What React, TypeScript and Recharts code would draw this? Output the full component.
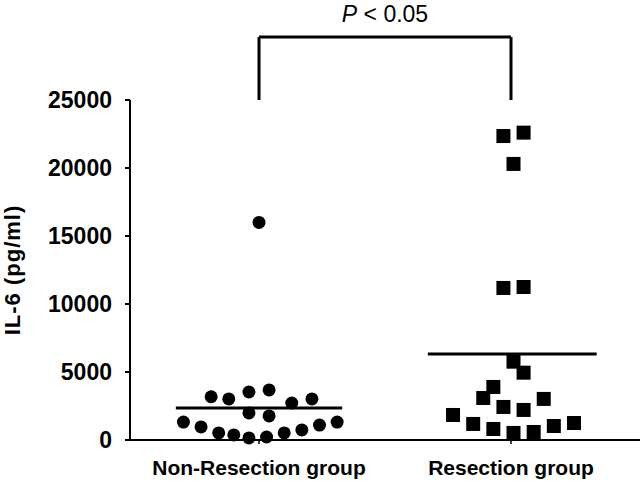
import React from "react";
import { ScatterChart, Scatter, XAxis, YAxis, ReferenceLine } from "recharts";

const categories = ["Non-Resection group", "Resection group"];
const yTicks = [0, 5000, 10000, 15000, 20000, 25000];

const nonResectionValues = [16000, 3180, 3020, 3530, 3680, 2720, 3020, 1990, 1770, 1320, 960, 520, 370, 150, 220, 520, 740, 1100, 1320];
const nonResectionJitter = [0.0, -0.19, -0.12, -0.04, 0.04, 0.13, 0.21, -0.04, 0.04, -0.3, -0.23, -0.16, -0.1, -0.04, 0.03, 0.1, 0.17, 0.24, 0.31];

const resectionValues = [22350, 22600, 20300, 11180, 11250, 5760, 4950, 3900, 3090, 2430, 2210, 3020, 1840, 1180, 810, 520, 590, 1030, 1250];
const resectionJitter = [-0.03, 0.05, 0.01, -0.03, 0.05, 0.01, 0.05, -0.07, -0.11, -0.03, 0.05, 0.13, -0.23, -0.15, -0.07, 0.01, 0.09, 0.17, 0.25];

const groupMeans = [2360, 6330];
const bracketTop = 29630;
const pText = { italic: "P", rest: " < 0.05" };

const nonResData = nonResectionValues.map((v, i) => ({ x: 1 + nonResectionJitter[i], y: v }));
const resData = resectionValues.map((v, i) => ({ x: 2 + resectionJitter[i], y: v }));

const FONT = "'Liberation Sans', Arial, sans-serif";

const CircleShape = (props: any) => <circle cx={props.cx} cy={props.cy} r={6.5} fill="#000" />;
const SquareShape = (props: any) => <rect x={props.cx - 7} y={props.cy - 7} width={14} height={14} fill="#000" />;

const YLabel = (props: any) => {
  const vb = props.viewBox || { x: 0, y: 0, width: 0, height: 0 };
  const x = 12;
  const y = vb.y + vb.height / 2;
  return (
    <text x={x} y={y} transform={`rotate(-90 ${x} ${y})`} textAnchor="middle" dominantBaseline="central"
      style={{ fontFamily: FONT, fontWeight: "bold", fontSize: 22, letterSpacing: 1, fill: "#000" }}>
      IL-6 (pg/ml)
    </text>
  );
};

const PLabel = (props: any) => {
  const vb = props.viewBox || { x: 0, y: 0, width: 0 };
  const cx = vb.x + vb.width / 2;
  return (
    <text x={cx} y={vb.y - 15} textAnchor="middle" style={{ fontFamily: FONT, fontSize: 23, fill: "#000" }}>
      <tspan fontStyle="italic">{pText.italic}</tspan>
      <tspan>{pText.rest}</tspan>
    </text>
  );
};

export default function App() {
  return (
    <div style={{ position: "absolute", left: 0, top: 0, background: "#fff" }}>
      <ScatterChart width={643} height={482} margin={{ top: 100, right: 3, bottom: 0, left: 0 }}>
        <XAxis
          type="number"
          dataKey="x"
          domain={[0.488, 2.512]}
          ticks={[1, 2]}
          tickFormatter={(v: number) => categories[Math.round(v) - 1]}
          height={42}
          axisLine={{ stroke: "#000", strokeWidth: 2 }}
          tickLine={{ stroke: "#000", strokeWidth: 1.5 }}
          tickSize={4}
          tickMargin={16}
          tick={{ fill: "#000", fontFamily: FONT, fontWeight: "bold", fontSize: 21 }}
          allowDataOverflow
        />
        <YAxis
          type="number"
          dataKey="y"
          domain={[0, 25000]}
          ticks={yTicks}
          width={130}
          axisLine={{ stroke: "#000", strokeWidth: 2 }}
          tickLine={{ stroke: "#000", strokeWidth: 2 }}
          tickSize={5}
          tickMargin={13}
          tick={{ fill: "#000", fontFamily: FONT, fontWeight: "bold", fontSize: 23 }}
          label={<YLabel />}
        />
        <ReferenceLine segment={[{ x: 1 - 0.33, y: groupMeans[0] }, { x: 1 + 0.33, y: groupMeans[0] }]} stroke="#000" strokeWidth={3} ifOverflow="visible" />
        <ReferenceLine segment={[{ x: 2 - 0.33, y: groupMeans[1] }, { x: 2 + 0.34, y: groupMeans[1] }]} stroke="#000" strokeWidth={3} ifOverflow="visible" />
        <ReferenceLine segment={[{ x: 1, y: 25000 }, { x: 1, y: bracketTop }]} stroke="#000" strokeWidth={3} ifOverflow="visible" />
        <ReferenceLine segment={[{ x: 2, y: 25000 }, { x: 2, y: bracketTop }]} stroke="#000" strokeWidth={3} ifOverflow="visible" />
        <ReferenceLine segment={[{ x: 1, y: bracketTop }, { x: 2, y: bracketTop }]} stroke="#000" strokeWidth={3} ifOverflow="visible" label={<PLabel />} />
        <Scatter data={nonResData} shape={CircleShape} isAnimationActive={false} />
        <Scatter data={resData} shape={SquareShape} isAnimationActive={false} />
      </ScatterChart>
    </div>
  );
}
